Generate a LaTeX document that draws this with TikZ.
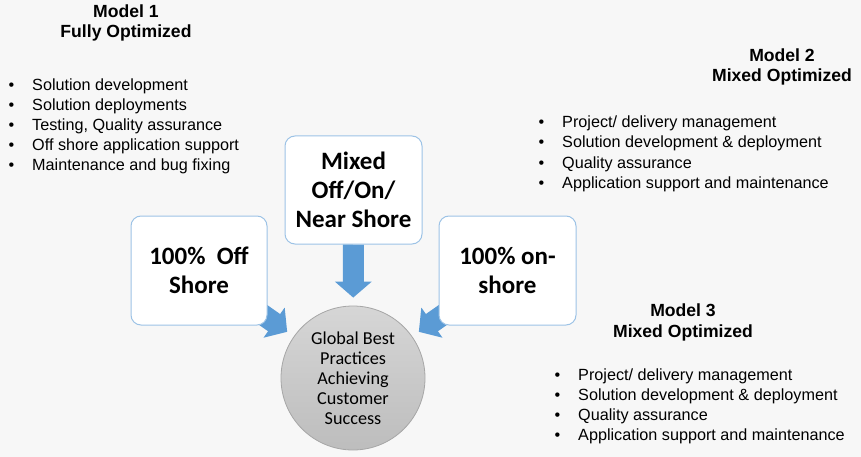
\documentclass[tikz,border=0pt]{standalone}
\usepackage{fontspec}
\setmainfont{Liberation Sans}
\newfontfamily\calfont{Carlito}
\usetikzlibrary{arrows.meta,calc,positioning}

\definecolor{bgcol}{HTML}{F7F7F7}
\definecolor{boxline}{HTML}{9DC3E6}
\definecolor{arrowblue}{HTML}{5B9BD5}
\definecolor{hubline}{HTML}{A6A6A6}
\definecolor{hubtop}{HTML}{D6D6D6}
\definecolor{hubbot}{HTML}{BDBDBD}

\pgfdeclarelayer{bg}
\pgfdeclarelayer{arrowlayer}
\pgfsetlayers{bg,arrowlayer,main}

\begin{document}
\begin{tikzpicture}[x=1pt,y=-1pt]
	\tikzset{shorebox/.style={draw=boxline,line width=1pt,fill=white,rounded corners=10pt,align=center,font=\calfont\bfseries\fontsize{25}{29}\selectfont}}
	\tikzset{hubnode/.style={circle,draw=hubline,line width=0.8pt,top color=hubtop,bottom color=hubbot,minimum size=144pt,inner sep=0pt,align=center,font=\calfont\fontsize{18.2}{20}\selectfont}}
	\tikzset{blockarrow/.style={draw=arrowblue,line width=21pt,-{Triangle[length=16pt,width=36pt]},shorten >=8pt}}
	\tikzset{title/.style={anchor=base,inner sep=0pt,font=\bfseries\fontsize{17.6}{20}\selectfont}}
	\tikzset{item/.style={anchor=base west,inner sep=0pt,font=\fontsize{16.2}{20}\selectfont}}
	\newcommand{\bul}{\llap{\textbullet\hspace{18pt}}}

	\begin{pgfonlayer}{bg}
		\fill[bgcol] (0,0) rectangle (861,457);
	\end{pgfonlayer}
	\useasboundingbox (0,0) rectangle (861,457);

	% shore models and hub
	\node[shorebox,minimum width=136pt,minimum height=109pt] (off) at (199,270.5) {100\%~~Off\\Shore};
	\node[shorebox,minimum width=137pt,minimum height=108pt] (mix) at (353.5,190) {Mixed\\Off/On/\\Near Shore};
	\node[shorebox,minimum width=137pt,minimum height=109pt] (on) at (507.5,270.5) {100\% on-\\shore};
	\node[hubnode] (hub) at (353,378) {Global Best\\Practices\\Achieving\\Customer\\Success};

	\coordinate (offtail) at ($(off.south east)+(-15,-18)$);
	\coordinate (ontail) at ($(on.south west)+(15,-18)$);
	\begin{pgfonlayer}{arrowlayer}
		\draw[blockarrow] (mix) -- (hub);
		\draw[blockarrow] (offtail) -- (hub);
		\draw[blockarrow] (ontail) -- (hub);
	\end{pgfonlayer}

	% model 1
	\node[title] (m1a) at (126,18) {Model 1};
	\node[title] (m1b) at (126,38) {Fully Optimized};
	\foreach \t [count=\i] in {Solution development,Solution deployments,{Testing, Quality assurance},Off shore application support,Maintenance and bug fixing}
		\node[item] (ma\i) at (32,71+20*\i) {\bul\t};

	% model 2
	\node[title] (m2a) at (782,62) {Model 2};
	\node[title] (m2b) at (782,82) {Mixed Optimized};
	\foreach \t [count=\i] in {Project/ delivery management,Solution development \& deployment,Quality assurance,Application support and maintenance}
		\node[item] (mb\i) at (562,108+20*\i) {\bul\t};

	% model 3
	\node[title] (m3a) at (683,316) {Model 3};
	\node[title] (m3b) at (683,337) {Mixed Optimized};
	\foreach \t [count=\i] in {Project/ delivery management,Solution development \& deployment,Quality assurance,Application support and maintenance}
		\node[item] (mc\i) at (578,360+20*\i) {\bul\t};
\end{tikzpicture}
\end{document}
